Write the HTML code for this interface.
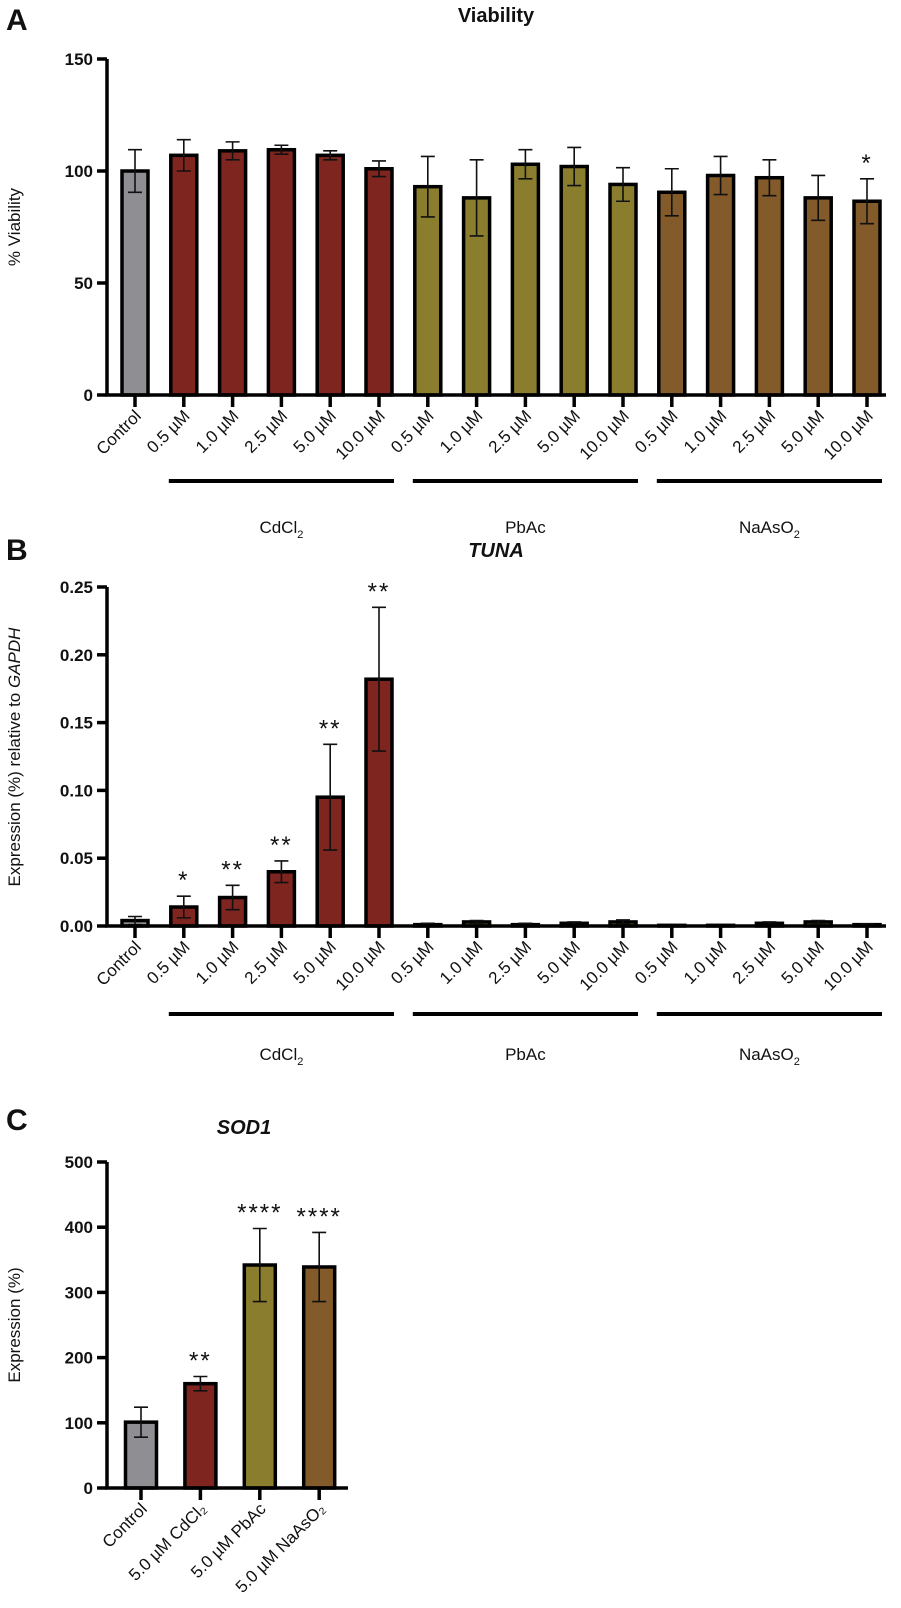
<!DOCTYPE html>
<html><head><meta charset="utf-8"><style>
body{margin:0;background:#fff;width:901px;height:1603px;overflow:hidden;font-family:"Liberation Sans",Arial,sans-serif}
svg text{font-family:"Liberation Sans",Arial,sans-serif}
</style></head><body>
<svg id="fig" width="901" height="1603" viewBox="0 0 901 1603" xmlns="http://www.w3.org/2000/svg"></svg>
<script>
// Panel A data
const catsA = ["Control","0.5 µM","1.0 µM","2.5 µM","5.0 µM","10.0 µM","0.5 µM","1.0 µM","2.5 µM","5.0 µM","10.0 µM","0.5 µM","1.0 µM","2.5 µM","5.0 µM","10.0 µM"];
const valsA = [100,107,109,109.5,107,101,93,88,103,102,94,90.5,98,97,88,86.5];
const errA = [9.5,7,4,2,2,3.5,13.5,17,6.5,8.5,7.5,10.5,8.5,8,10,10];
const starsA = ["","","","","","","","","","","","","","","","*"];
const ticksA = [0,50,100,150];
// Panel B data
const valsB = [0.004,0.014,0.021,0.040,0.095,0.182,0.001,0.003,0.001,0.002,0.003,0.0005,0.0005,0.002,0.003,0.001];
const errB = [0.003,0.008,0.009,0.008,0.039,0.053,0.001,0.001,0.001,0.001,0.0015,0.0005,0.0005,0.001,0.001,0.0005];
const starsB = ["","*","**","**","**","**","","","","","","","","","",""];
const ticksB = [0,0.05,0.10,0.15,0.20,0.25];
// Panel C data
const catsC = ["Control","5.0 µM CdCl₂","5.0 µM PbAc","5.0 µM NaAsO₂"];
const valsC = [101,160,342,339];
const errC = [23,11,56,53];
const starsC = ["","**","****","****"];
const ticksC = [0,100,200,300,400,500];
const groups = ["CdCl","PbAc","NaAsO"];

const GRAY="#8f8e93",RED="#7e2520",OLI="#8a7e2e",BRN="#835a2a";
const colorsA=[GRAY,RED,RED,RED,RED,RED,OLI,OLI,OLI,OLI,OLI,BRN,BRN,BRN,BRN,BRN];
const colorsC=[GRAY,RED,OLI,BRN];
const svg=document.getElementById('fig');
const NS="http://www.w3.org/2000/svg";
function mk(tag,attrs,parent){const e=document.createElementNS(NS,tag);for(const k in attrs)e.setAttribute(k,attrs[k]);(parent||svg).appendChild(e);return e;}

function chart(o){
  const g=mk('g',{});
  
  
  const y=v=>o.y0-(v-o.min)/(o.max-o.min)*(o.y0-o.y1);
  const x=i=>o.xStart+i*o.step;
  o.vals.forEach((v,i)=>{
    const r=mk('rect',{x:x(i)-o.bw/2,y:y(v),width:o.bw,height:o.y0-y(v),fill:o.colors[i],stroke:'#000','stroke-width':3.5},g);
    
    
    const hi=y(v+o.err[i]),lo=y(Math.max(0,v-o.err[i]));
    const eb=mk('path',{d:`M${x(i)} ${hi}V${lo}M${x(i)-7} ${hi}h14M${x(i)-7} ${lo}h14`,stroke:'#111','stroke-width':1.6,fill:'none'},g);
    
    
    if(o.stars[i]){const t=mk('text',{x:x(i),y:hi-8,'text-anchor':'middle','font-size':24,'letter-spacing':2,fill:'#111'},g);t.textContent=o.stars[i];
      
      }
    mk('line',{x1:x(i),x2:x(i),y1:o.y0,y2:o.y0+12,stroke:'#000','stroke-width':3.5},g);
    const tl=mk('text',{transform:`translate(${x(i)+7},${o.y0+22}) rotate(-45)`,'text-anchor':'end','font-size':o.tfs,fill:'#111'},g);
    tl.textContent=o.cats[i];
    
    
  });
  mk('path',{d:`M${o.ax} ${o.y1}V${o.y0}H${o.xEnd}`,stroke:'#000','stroke-width':3.5,fill:'none'},g);
  o.ticks.forEach(t=>{
    mk('line',{x1:o.ax-10,x2:o.ax,y1:y(t),y2:y(t),stroke:'#000','stroke-width':3.5},g);
    const tt=mk('text',{x:o.ax-14,y:y(t)+6,'text-anchor':'end','font-size':17,'font-weight':'bold',fill:'#111'},g);
    tt.textContent=o.fmt(t);
    
    
  });
  return {g,y,x};
}
function groupLines(c,y0,ly){
  const gl=[[1,5],[6,10],[11,15]];
  gl.forEach((r,k)=>{
    mk('line',{x1:c.x(r[0])-15,x2:c.x(r[1])+15,y1:y0,y2:y0,stroke:'#000','stroke-width':4},c.g);
    const t=mk('text',{x:(c.x(r[0])+c.x(r[1]))/2,y:ly,'text-anchor':'middle','font-size':17,fill:'#111'},c.g);
    
    
    if(k==0){t.innerHTML='CdCl<tspan font-size="11" dy="5">2</tspan>';}
    else if(k==1){t.textContent='PbAc';}
    else{t.innerHTML='NaAsO<tspan font-size="11" dy="5">2</tspan>';}
  });
}
function text(s,x,y,attrs,name){const t=mk('text',Object.assign({x,y,fill:'#111'},attrs));t.innerHTML=s;
  return t;}

const A=chart({name:'viability-chart',cats:catsA,vals:valsA,err:errA,stars:starsA,ticks:ticksA,colors:colorsA,min:0,max:150,y0:395,y1:59,ax:107,xStart:135,step:48.8,bw:26,xEnd:886,tfs:17,fmt:t=>t});
groupLines(A,481,533);
text('A',6,30,{'font-size':30,'font-weight':'bold'},'panel-label-a');
text('Viability',496,22,{'font-size':20,'font-weight':'bold','text-anchor':'middle'},'chart-title-a');
text('% Viability',0,0,{'font-size':17,transform:'translate(20,227) rotate(-90)','text-anchor':'middle'},'y-axis-title-a');

const B=chart({name:'tuna-chart',cats:catsA,vals:valsB,err:errB,stars:starsB,ticks:ticksB,colors:colorsA,min:0,max:0.25,y0:926,y1:587,ax:107,xStart:135,step:48.8,bw:26,xEnd:886,tfs:17,fmt:t=>t.toFixed(2)});
groupLines(B,1014,1060);
text('B',6,560,{'font-size':30,'font-weight':'bold'},'panel-label-b');
text('TUNA',496,557,{'font-size':20,'font-weight':'bold','font-style':'italic','text-anchor':'middle'},'chart-title-b');
text('Expression (%) relative to <tspan font-style="italic">GAPDH</tspan>',0,0,{'font-size':17,transform:'translate(20,757) rotate(-90)','text-anchor':'middle'},'y-axis-title-b');

const C=chart({name:'sod1-chart',cats:catsC,vals:valsC,err:errC,stars:starsC,ticks:ticksC,colors:colorsC,min:0,max:500,y0:1488,y1:1162,ax:107,xStart:141,step:59.4,bw:31,xEnd:348,tfs:17,fmt:t=>t});
text('C',6,1130,{'font-size':30,'font-weight':'bold'},'panel-label-c');
text('SOD1',244,1134,{'font-size':20,'font-weight':'bold','font-style':'italic','text-anchor':'middle'},'chart-title-c');
text('Expression (%)',0,0,{'font-size':17,transform:'translate(20,1325) rotate(-90)','text-anchor':'middle'},'y-axis-title-c');
</script>
</body></html>
